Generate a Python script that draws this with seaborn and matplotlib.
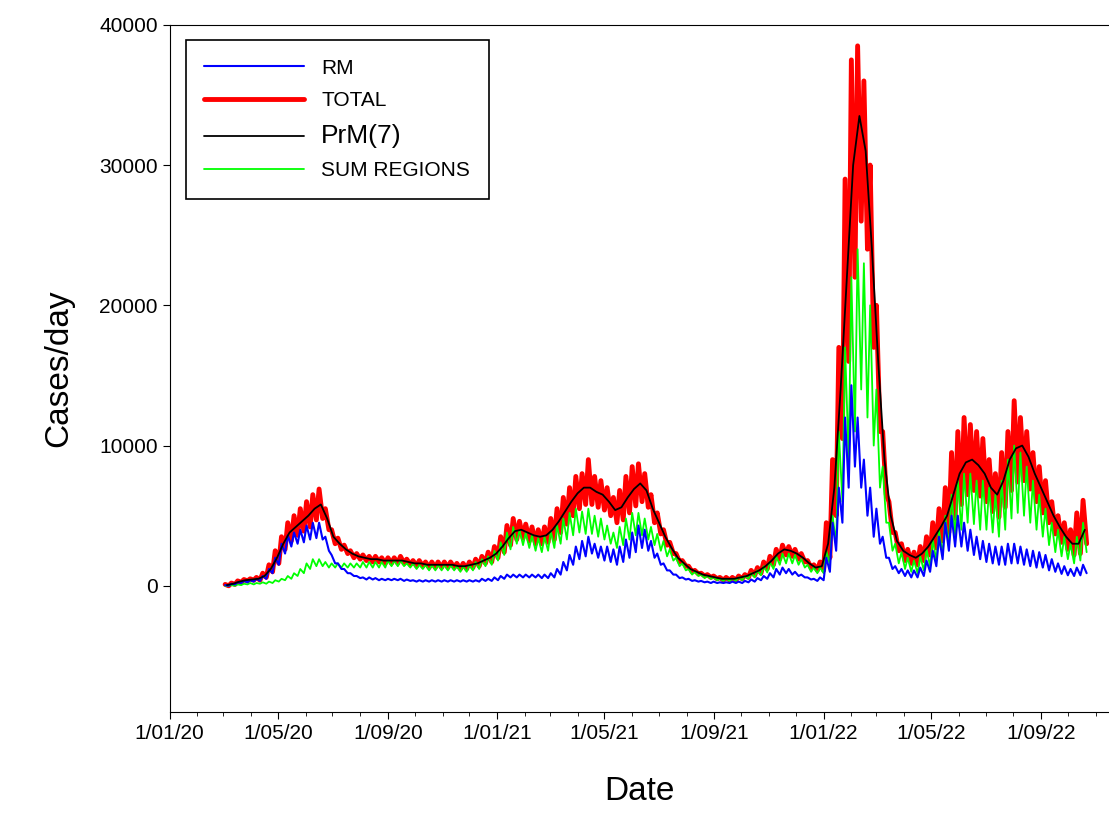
import pandas as pd
import numpy as np
import matplotlib
matplotlib.use("Agg")
import matplotlib.pyplot as plt
import matplotlib.dates as mdates
from matplotlib.lines import Line2D
import seaborn as sns

# Semanas desde 2020-03-02, valores en miles de casos/dia
inicio = "2020-03-02"

prm7 = [0.05,0.15,0.3,0.4,0.45, 0.5,0.7,1.2,2.0, 3.0,3.8,4.2,4.6,5.0, 5.5,5.8,4.8,3.5,
        3.0,2.6,2.3,2.1,2.0, 1.9,1.9,1.8,1.8, 1.8,1.8,1.7,1.6, 1.6,1.5,1.5,1.5,1.5,
        1.5,1.4,1.4,1.5, 1.6,1.8,2.0,2.3,
        2.8,3.4,3.9,4.0,3.8, 3.6,3.5,3.6,4.0, 4.6,5.3,6.0,6.6, 7.0,7.0,6.7,6.5,
        6.0,5.4,5.6,6.3,6.9, 7.3,6.8,5.5,4.5, 3.5,2.7,2.0,1.6, 1.2,1.0,0.8,0.7,0.6,
        0.5,0.5,0.5,0.6, 0.7,0.9,1.1,1.4,1.8, 2.3,2.6,2.5,2.3, 2.0,1.6,1.3,1.4,
        3.0,7.0,14.0,22.0,30.0, 33.5,31.0,24.0,16.0, 9.0,5.0,3.2,2.5, 2.2,2.0,2.3,2.8,
        3.5,4.2,5.0,6.5,8.0, 8.8,9.0,8.6,8.0, 7.0,6.5,7.5,9.0, 9.8,10.0,9.2,8.0,7.0,
        6.0,5.0,4.2,3.5, 3.0,3.0,4.0]

total_hi = [0.1,0.2,0.35,0.45,0.5, 0.6,0.9,1.5,2.5, 3.5,4.5,5.0,5.5,6.0, 6.5,6.9,5.5,4.0,
            3.4,2.9,2.5,2.3,2.2, 2.1,2.1,2.0,2.0, 2.0,2.1,1.9,1.8, 1.8,1.7,1.7,1.7,1.7,
            1.7,1.6,1.6,1.7, 1.9,2.1,2.4,2.8,
            3.5,4.3,4.8,4.6,4.4, 4.2,4.0,4.2,4.8, 5.5,6.3,7.0,7.8, 8.0,9.0,7.8,7.5,
            7.0,6.3,6.8,7.8,8.5, 8.7,8.0,6.5,5.2, 4.0,3.1,2.3,1.8, 1.4,1.1,0.9,0.8,0.7,
            0.6,0.6,0.6,0.7, 0.8,1.1,1.3,1.7,2.1, 2.6,2.9,2.8,2.6, 2.3,1.8,1.5,1.7,
            4.5,9.0,17.0,29.0,37.5, 38.5,36.0,30.0,20.0, 11.0,6.0,3.8,3.0, 2.6,2.4,2.8,3.5,
            4.5,5.5,7.0,9.5,11.0, 12.0,11.5,11.0,10.5, 9.0,8.0,9.5,11.0, 13.2,12.0,11.0,9.5,8.5,
            7.5,6.0,5.0,4.5, 4.0,5.2,6.1]

total_lo = [0.0,0.1,0.25,0.35,0.4, 0.4,0.6,1.0,1.6, 2.6,3.2,3.6,3.9,4.2, 4.7,4.8,4.0,3.0,
            2.6,2.3,2.0,1.9,1.8, 1.7,1.7,1.6,1.6, 1.6,1.6,1.5,1.4, 1.4,1.3,1.3,1.3,1.3,
            1.3,1.2,1.2,1.3, 1.4,1.6,1.7,2.0,
            2.4,2.9,3.3,3.4,3.2, 3.0,3.0,3.1,3.3, 3.8,4.4,5.0,5.5, 5.8,5.8,5.6,5.4,
            5.0,4.5,4.7,5.2,5.7, 6.0,5.6,4.5,3.7, 2.9,2.3,1.7,1.4, 1.0,0.85,0.7,0.6,0.5,
            0.4,0.4,0.4,0.5, 0.6,0.75,0.9,1.2,1.5, 1.9,2.2,2.1,1.9, 1.7,1.3,1.1,1.1,
            2.0,5.0,10.5,16.0,22.0, 26.0,24.0,17.0,11.0, 6.5,3.8,2.5,1.8, 1.6,1.5,1.8,2.2,
            2.7,3.2,3.8,4.8,5.8, 6.5,6.8,6.4,6.0, 5.3,4.9,5.6,6.8, 7.4,7.5,6.9,6.0,5.2,
            4.5,3.7,3.1,2.6, 2.2,2.3,3.0]

sum_hi = [0.0,0.05,0.1,0.15,0.2, 0.2,0.25,0.3,0.4, 0.5,0.7,0.9,1.2,1.6, 1.9,1.9,1.7,1.6,
          1.6,1.6,1.6,1.6,1.7, 1.7,1.7,1.7,1.8, 1.8,1.8,1.6,1.6, 1.5,1.5,1.5,1.5,1.5,
          1.5,1.4,1.4,1.5, 1.7,1.9,2.1,2.5,
          3.1,3.8,4.2,4.0,3.8, 3.6,3.4,3.5,3.9, 4.3,4.8,5.2,5.5, 5.3,5.5,5.0,4.8,
          4.3,3.8,4.2,4.8,5.2, 5.2,4.8,4.2,3.7, 3.2,2.6,2.0,1.6, 1.2,1.0,0.8,0.7,0.6,
          0.5,0.5,0.5,0.6, 0.7,0.9,1.1,1.4,1.7, 2.1,2.3,2.3,2.2, 1.9,1.5,1.3,1.3,
          2.5,5.0,11.0,17.0,22.0, 24.0,23.0,20.0,14.0, 8.5,4.5,3.0,2.4, 2.0,1.8,2.1,2.6,
          3.3,4.0,5.0,6.5,7.5, 8.0,8.0,7.5,7.5, 7.0,6.5,7.5,9.0, 10.0,9.5,8.5,7.5,6.5,
          5.5,4.5,4.0,3.5, 3.0,3.5,4.5]

sum_lo = [0.0,0.0,0.05,0.1,0.1, 0.15,0.15,0.2,0.3, 0.4,0.5,0.7,0.9,1.2, 1.4,1.4,1.3,1.3,
          1.3,1.3,1.3,1.3,1.3, 1.3,1.3,1.3,1.4, 1.4,1.4,1.3,1.2, 1.2,1.1,1.1,1.1,1.1,
          1.1,1.0,1.0,1.1, 1.2,1.4,1.5,1.8,
          2.2,2.6,3.0,2.9,2.7, 2.5,2.4,2.5,2.7, 3.0,3.3,3.6,3.8, 3.7,3.7,3.5,3.3,
          3.0,2.7,2.9,3.3,3.6, 3.6,3.3,2.9,2.5, 2.1,1.8,1.4,1.1, 0.8,0.7,0.55,0.5,0.4,
          0.35,0.35,0.35,0.4, 0.5,0.6,0.75,0.95,1.2, 1.5,1.6,1.6,1.5, 1.3,1.0,0.9,0.9,
          1.5,3.0,6.0,9.0,11.0, 14.0,12.0,10.0,7.0, 4.5,2.5,1.6,1.2, 1.0,0.9,1.1,1.4,
          1.8,2.2,2.8,3.6,4.0, 4.5,4.4,4.0,4.0, 3.8,3.5,4.0,4.8, 5.2,5.0,4.5,4.0,3.5,
          2.9,2.4,2.1,1.9, 1.6,1.8,2.4]

rm_hi = [0.05,0.15,0.25,0.35,0.4, 0.5,0.7,1.2,2.0, 3.0,3.6,3.8,4.0,4.3, 4.5,4.5,3.5,2.2,
         1.6,1.2,0.9,0.7,0.6, 0.6,0.55,0.5,0.5, 0.5,0.5,0.45,0.4, 0.4,0.4,0.4,0.4,0.4,
         0.4,0.4,0.4,0.4, 0.4,0.5,0.5,0.6,
         0.7,0.8,0.8,0.8,0.8, 0.8,0.8,0.8,0.9, 1.2,1.7,2.2,2.8, 3.2,3.5,3.0,2.8,
         2.8,2.6,2.8,3.3,3.8, 4.3,4.0,3.2,2.3, 1.6,1.1,0.8,0.6, 0.5,0.4,0.35,0.3,0.3,
         0.25,0.25,0.3,0.3, 0.35,0.45,0.55,0.7,0.9, 1.2,1.3,1.2,1.0, 0.8,0.6,0.5,0.6,
         2.0,4.5,7.0,12.0,14.3, 12.0,9.0,7.0,5.5, 3.5,2.0,1.4,1.2, 1.1,1.1,1.3,1.8,
         2.5,3.5,4.5,5.0,5.0, 4.5,4.0,3.5,3.2, 3.0,2.8,2.8,3.0, 3.0,2.8,2.6,2.5,2.4,
         2.2,1.9,1.6,1.4, 1.2,1.3,1.5]

rm_lo = [0.0,0.1,0.2,0.25,0.3, 0.35,0.5,0.9,1.5, 2.3,2.8,3.0,3.1,3.3, 3.4,3.3,2.5,1.6,
         1.2,0.9,0.7,0.55,0.45, 0.45,0.4,0.4,0.4, 0.4,0.35,0.35,0.3, 0.3,0.3,0.3,0.3,0.3,
         0.3,0.3,0.3,0.3, 0.3,0.35,0.35,0.4,
         0.5,0.6,0.6,0.6,0.6, 0.6,0.55,0.55,0.6, 0.8,1.1,1.5,1.9, 2.1,2.3,2.0,1.8,
         1.7,1.5,1.7,2.0,2.4, 2.7,2.5,2.0,1.5, 1.1,0.8,0.55,0.45, 0.35,0.3,0.25,0.2,0.2,
         0.2,0.2,0.2,0.2, 0.25,0.3,0.4,0.5,0.6, 0.8,0.9,0.8,0.7, 0.6,0.45,0.35,0.4,
         1.0,2.5,4.5,7.0,8.5, 7.0,5.0,3.5,3.0, 2.0,1.2,0.9,0.7, 0.6,0.6,0.7,1.0,
         1.4,1.9,2.5,2.8,2.8, 2.5,2.2,1.9,1.7, 1.6,1.5,1.5,1.6, 1.6,1.5,1.4,1.3,1.3,
         1.1,1.0,0.85,0.75, 0.7,0.75,0.9]

xtick_fechas = ["2020-01-01", "2020-05-01", "2020-09-01", "2021-01-01", "2021-05-01",
                "2021-09-01", "2022-01-01", "2022-05-01", "2022-09-01"]
xtick_labels = ["1/01/20", "1/05/20", "1/09/20", "1/01/21", "1/05/21",
                "1/09/21", "1/01/22", "1/05/22", "1/09/22"]

semanas = pd.date_range(inicio, periods=len(prm7), freq="7D")

def zigzag(hi, lo):
    # pico al inicio de la semana, valle hacia el fin de semana
    fechas = []
    valores = []
    for s, h, l in zip(semanas, hi, lo):
        fechas += [s + pd.Timedelta(days=1), s + pd.Timedelta(days=5)]
        valores += [h * 1000, l * 1000]
    return pd.DataFrame({"fecha": fechas, "casos": valores})

df_total = zigzag(total_hi, total_lo)
df_sum = zigzag(sum_hi, sum_lo)
df_rm = zigzag(rm_hi, rm_lo)
df_prm = pd.DataFrame({"fecha": semanas + pd.Timedelta(days=3), "casos": np.array(prm7) * 1000})

sns.set_style("ticks")
plt.rcParams["font.family"] = ["Liberation Sans", "DejaVu Sans"]
plt.rcParams["text.color"] = "black"
plt.rcParams["axes.labelcolor"] = "black"
plt.rcParams["xtick.color"] = "black"
plt.rcParams["ytick.color"] = "black"

fig = plt.figure(figsize=(11.09, 8.27), dpi=100)
ax = fig.add_axes([0.153, 0.139, 0.847, 0.831])

sns.lineplot(data=df_total, x="fecha", y="casos", ax=ax, color="red", lw=3.5)
sns.lineplot(data=df_sum, x="fecha", y="casos", ax=ax, color="#00ff00", lw=1.3)
sns.lineplot(data=df_rm, x="fecha", y="casos", ax=ax, color="blue", lw=1.5)
sns.lineplot(data=df_prm, x="fecha", y="casos", ax=ax, color="black", lw=1.3)

ax.set_xlim(pd.Timestamp("2020-01-01"), pd.Timestamp("2022-11-16"))
ax.set_ylim(-9000, 40000)
ax.set_yticks([0, 10000, 20000, 30000, 40000])
ax.set_xticks(pd.to_datetime(xtick_fechas))
ax.set_xticklabels(xtick_labels)
ax.xaxis.set_minor_locator(mdates.MonthLocator())
ax.tick_params(axis="both", which="major", labelsize=15, direction="out", length=5)
ax.tick_params(axis="x", which="minor", length=3)
ax.set_xlabel("Date", fontsize=24, labelpad=24)
ax.set_ylabel("Cases/day", fontsize=24, labelpad=18)
ax.spines["right"].set_visible(False)
for s in ["left", "bottom", "top"]:
    ax.spines[s].set_color("black")

handles = [Line2D([], [], color="blue", lw=1.5),
           Line2D([], [], color="red", lw=3.5),
           Line2D([], [], color="black", lw=1.3),
           Line2D([], [], color="#00ff00", lw=1.3)]
leg = ax.legend(handles, ["RM", "TOTAL", "PrM(7)", "SUM REGIONS"], loc="upper left",
                bbox_to_anchor=(0.006, 0.993), fontsize=15, fancybox=False,
                edgecolor="black", framealpha=1, handlelength=4.8, labelspacing=0.65,
                borderpad=0.9)
leg.get_frame().set_linewidth(1.2)
leg.get_texts()[2].set_fontsize(19)

fig.savefig("out.png", dpi=100)
